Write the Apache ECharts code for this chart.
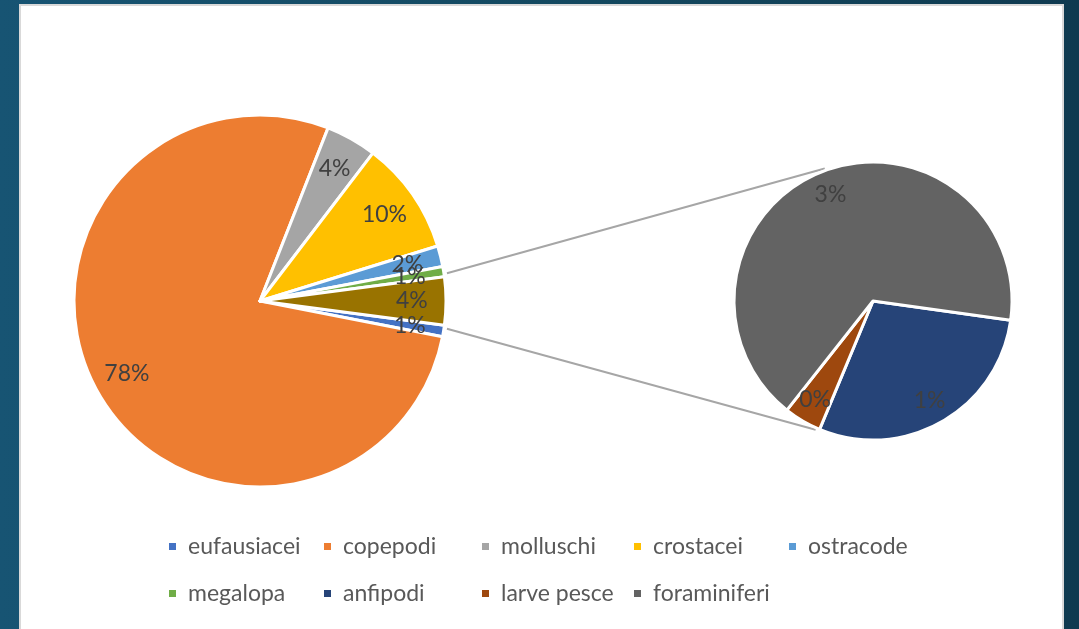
<!DOCTYPE html>
<html><head><meta charset="utf-8">
<script src="https://cdn.jsdelivr.net/npm/echarts@6/dist/echarts.min.js"></script>
<style>
html,body{margin:0;padding:0;width:1079px;height:629px;overflow:hidden;background:linear-gradient(90deg,#175473 0%,#13485f 55%,#0f3a50 100%);}
#panel{position:absolute;left:19px;top:4px;width:1045px;height:640px;background:#fff;border:2px solid #d9d9d9;box-sizing:border-box;}
#chart{position:absolute;left:0;top:0;width:1079px;height:629px;}
</style></head><body>
<div id="panel"></div><div id="chart"></div>
<script>
// ---- data ----
const mainNames = ['eufausiacei', 'copepodi', 'molluschi', 'crostacei', 'ostracode', 'megalopa'];
const mainValues = [1.0, 77.6, 4.4, 9.8, 1.8, 0.9];
const secondNames = ['anfipodi', 'larve pesce', 'foraminiferi'];
const secondValues = [1.2, 0.18, 2.75];
const otherName = 'Altro';
const legendNames = ['eufausiacei', 'copepodi', 'molluschi', 'crostacei', 'ostracode',
                     'megalopa', 'anfipodi', 'larve pesce', 'foraminiferi'];

// ---- styles ----
const colorMap = {
  'eufausiacei': '#4472C4', 'copepodi': '#ED7D31', 'molluschi': '#A5A5A5', 'crostacei': '#FFC000',
  'ostracode': '#5B9BD5', 'megalopa': '#70AD47', 'anfipodi': '#264478', 'larve pesce': '#9E480E',
  'foraminiferi': '#636363', 'Altro': '#997300'
};
const FONT = 'Lato, "Liberation Sans", sans-serif';
const C1 = [260, 301], R1 = 186;
const C2 = [873, 301], R2 = 139;

const otherValue = secondValues.reduce((a, b) => a + b, 0);
const total = mainValues.reduce((a, b) => a + b, 0) + otherValue;
const otherShare = otherValue / total;
const start1 = -otherShare * 180;
const start2 = -8;

const mainData = mainNames.map((n, i) => ({ name: n, value: mainValues[i], itemStyle: { color: colorMap[n] } }))
  .concat([{ name: otherName, value: otherValue, itemStyle: { color: colorMap[otherName] } }]);
const secondData = secondNames.map((n, i) => ({ name: n, value: secondValues[i], itemStyle: { color: colorMap[n] } }));

const fmt = p => Math.round(p.value / total * 100) + '%';

function pieSeries(data, center, r, startAngle) {
  return {
    type: 'pie', center: center, radius: [0, r], startAngle: startAngle, clockwise: true,
    data: data, label: { show: false }, labelLine: { show: false },
    itemStyle: { borderColor: '#ffffff', borderWidth: 3 },
    emphasis: { disabled: true }, animation: false, z: 3
  };
}
// label-only overlay; "parity" splits labels into two series so neighbours never compete
function labelSeries(data, center, r, startAngle, parity) {
  return {
    type: 'pie', center: center, radius: [r * 0.6, r], startAngle: startAngle, clockwise: true,
    avoidLabelOverlap: false,
    data: data.map((d, i) => ({ name: d.name, value: d.value, label: { show: i % 2 === parity } })),
    itemStyle: { color: 'rgba(0,0,0,0)', borderWidth: 0 },
    label: { position: 'inside', formatter: fmt, color: '#404040', fontSize: 23, fontFamily: FONT },
    labelLine: { show: false }, labelLayout: { hideOverlap: false },
    silent: true, emphasis: { disabled: true }, animation: false, z: 5,
    legendHoverLink: false
  };
}

function pt(c, r, deg) {
  const a = deg * Math.PI / 180;
  return [c[0] + r * Math.cos(a), c[1] - r * Math.sin(a)];
}
const topA = pt(C1, R1 + 3, start1 + otherShare * 360 + 1);
const botA = pt(C1, R1 + 3, start1 - 1);
const topB = pt(C2, R2 + 2, 110);
const botB = pt(C2, R2 + 2, -114);

const colLefts = [167, 322, 480, 632, 787];
const rowTops = [535, 582];
const legends = legendNames.map((n, i) => ({
  data: [n], left: colLefts[i % 5], top: rowTops[Math.floor(i / 5)], padding: 0,
  itemWidth: 9, itemHeight: 9, icon: 'rect', selectedMode: false,
  textStyle: { color: '#595959', fontSize: 23, fontFamily: FONT, padding: [0, 0, 0, 6] }
}));

const chart = echarts.init(document.getElementById('chart'), null, { renderer: 'canvas' });
chart.setOption({
  backgroundColor: 'transparent',
  animation: false,
  legend: legends,
  graphic: [
    { type: 'line', z: 0, shape: { x1: topA[0], y1: topA[1], x2: topB[0], y2: topB[1] }, style: { stroke: '#a6a6a6', lineWidth: 2 } },
    { type: 'line', z: 0, shape: { x1: botA[0], y1: botA[1], x2: botB[0], y2: botB[1] }, style: { stroke: '#a6a6a6', lineWidth: 2 } }
  ],
  series: [
    pieSeries(mainData, C1, R1, start1),
    pieSeries(secondData, C2, R2, start2),
    labelSeries(mainData, C1, R1, start1, 0),
    labelSeries(mainData, C1, R1, start1, 1),
    labelSeries(secondData, C2, R2, start2, 0),
    labelSeries(secondData, C2, R2, start2, 1)
  ]
});
</script>
</body></html>
